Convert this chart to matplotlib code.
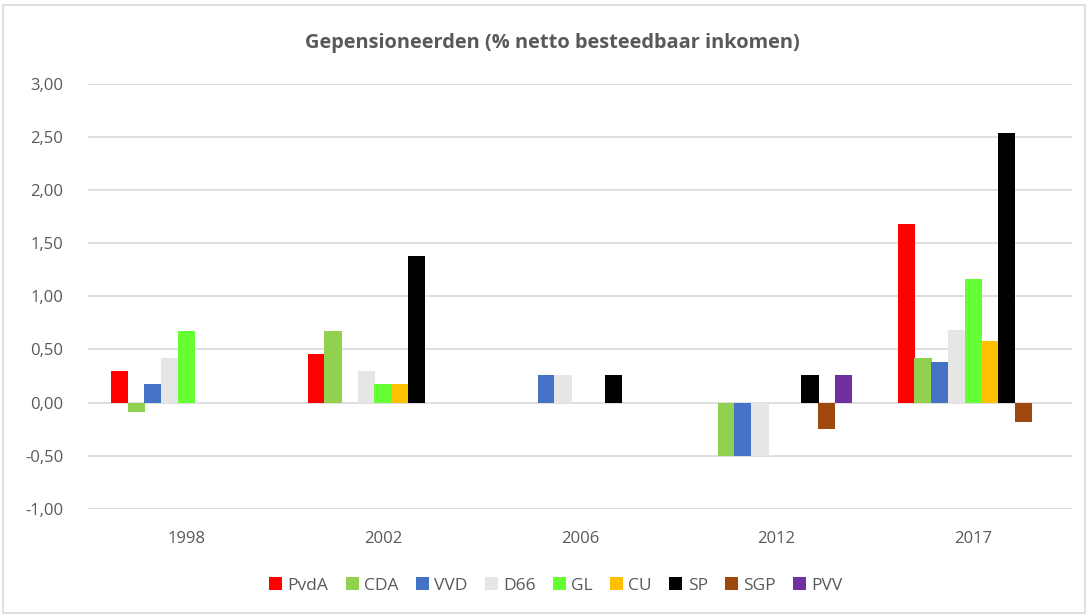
import matplotlib.pyplot as plt
import matplotlib.patches as patches
import numpy as np

years = ["1998", "2002", "2006", "2012", "2017"]
parties = ["PvdA", "CDA", "VVD", "D66", "GL", "CU", "SP", "SGP", "PVV"]
colors = ["#FF0000", "#92D050", "#4472C4", "#E7E6E6", "#66FF33",
          "#FFC000", "#000000", "#9E480E", "#7030A0"]

# values per party, one per year (0 = no bar)
pvda = [0.30, 0.46, 0.00, 0.00, 1.68]
cda = [-0.09, 0.67, 0.00, -0.50, 0.42]
vvd = [0.17, 0.00, 0.26, -0.50, 0.38]
d66 = [0.42, 0.30, 0.26, -0.50, 0.68]
gl = [0.67, 0.17, 0.00, 0.00, 1.16]
cu = [0.00, 0.17, 0.00, 0.00, 0.58]
sp = [0.00, 1.38, 0.26, 0.26, 2.54]
sgp = [0.00, 0.00, 0.00, -0.25, -0.18]
pvv = [0.00, 0.00, 0.00, 0.26, 0.00]
series = [pvda, cda, vvd, d66, gl, cu, sp, sgp, pvv]

yticks = [-1.0, -0.5, 0.0, 0.5, 1.0, 1.5, 2.0, 2.5, 3.0]

txt = "#595959"
plt.rcParams['font.family'] = ['Open Sans', 'DejaVu Sans']

fig = plt.figure(figsize=(10.88, 6.15), dpi=100)
ax = fig.add_axes([0.081, 0.173, 0.904, 0.690])

x = np.arange(len(years))
step = 0.085
for i, (name, vals, c) in enumerate(zip(parties, series, colors)):
    off = (i - 4) * step
    ax.bar(x + off, vals, width=step * 1.04, color=c, label=name, zorder=3,
           linewidth=0)

ax.set_xlim(-0.5, 4.5)
ax.set_ylim(-1.0, 3.0)
ax.set_yticks(yticks)
ax.set_yticklabels([("%.2f" % v).replace(".", ",") for v in yticks],
                   color=txt, fontsize=12)
ax.set_xticks(x)
ax.set_xticklabels(years, color=txt, fontsize=12)
ax.tick_params(axis="both", length=0)
ax.tick_params(axis="y", pad=18)
ax.tick_params(axis="x", pad=16)
ax.grid(axis="y", color="#D9D9D9", linewidth=1.2, zorder=0)
for s in ax.spines.values():
    s.set_visible(False)

fig.text(0.508, 0.93, "Gepensioneerden (% netto besteedbaar inkomen)",
         ha="center", va="center", fontsize=14.4, fontweight="bold", color=txt)

leg = fig.legend(loc="center", bbox_to_anchor=(0.511, 0.048), ncol=9,
                 frameon=False, fontsize=12.5, handlelength=0.75,
                 handleheight=0.75, handletextpad=0.3, columnspacing=1.0)
for t in leg.get_texts():
    t.set_color(txt)

# chart border
fig.patches.append(patches.Rectangle((0.003, 0.004), 0.994, 0.988,
                                     transform=fig.transFigure, fill=False,
                                     edgecolor="#D9D9D9", linewidth=1.2))

fig.savefig("out.png", dpi=100)
